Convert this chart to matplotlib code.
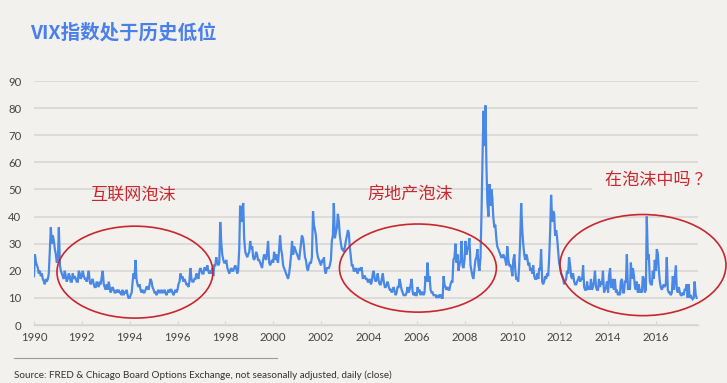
import matplotlib
matplotlib.use("Agg")
import matplotlib.pyplot as plt
import matplotlib.patches as mpatches
import numpy as np
import pandas as pd

# ---- data (semi-monthly readings of VIX daily close, Jan 1990 - Sep 2017) ----
vix_1990 = [18, 26, 23, 22, 21, 19, 20, 18, 19, 17, 16, 15, 17, 16, 17, 19, 28, 36, 30, 33, 31, 28, 26, 23]
vix_1991 = [24, 36, 22, 20, 19, 18, 17, 20, 18, 16, 17, 19, 18, 16, 16, 19, 17, 18, 17, 16, 16, 20, 19, 17]
vix_1992 = [18, 20, 18, 17, 17, 16, 18, 20, 16, 15, 16, 17, 15, 14, 14, 16, 15, 14, 16, 15, 18, 20, 15, 14]
vix_1993 = [13, 15, 13, 16, 14, 12, 13, 14, 13, 12, 12, 13, 12, 13, 12, 12, 11, 13, 11, 12, 12, 13, 11, 10]
vix_1994 = [10, 11, 12, 16, 19, 17, 24, 17, 15, 14, 15, 13, 12, 13, 12, 12, 13, 14, 14, 13, 15, 17, 16, 14]
vix_1995 = [13, 12, 12, 11, 12, 13, 12, 12, 13, 12, 12, 13, 12, 11, 12, 13, 12, 13, 13, 12, 11, 12, 13, 12]
vix_1996 = [13, 15, 16, 19, 17, 18, 16, 17, 16, 15, 15, 14, 16, 21, 17, 16, 16, 17, 17, 19, 18, 17, 20, 21]
vix_1997 = [20, 19, 19, 21, 21, 20, 22, 20, 19, 20, 19, 21, 18, 22, 22, 25, 23, 22, 23, 38, 30, 26, 24, 23]
vix_1998 = [23, 24, 21, 20, 19, 20, 21, 20, 20, 21, 22, 21, 19, 20, 28, 44, 38, 42, 45, 32, 27, 26, 25, 26]
vix_1999 = [27, 31, 28, 29, 25, 24, 25, 27, 26, 24, 24, 23, 22, 21, 24, 26, 25, 24, 27, 31, 23, 22, 23, 24]
vix_2000 = [23, 27, 24, 26, 24, 23, 28, 33, 28, 26, 22, 21, 20, 19, 18, 17, 19, 22, 26, 31, 26, 29, 28, 27]
vix_2001 = [26, 25, 24, 27, 30, 33, 32, 29, 25, 24, 21, 20, 22, 23, 23, 25, 42, 37, 35, 33, 27, 25, 24, 23]
vix_2002 = [22, 24, 23, 25, 20, 19, 21, 21, 21, 22, 24, 31, 33, 45, 32, 34, 36, 41, 38, 33, 30, 28, 28, 27]
vix_2003 = [29, 31, 33, 35, 34, 29, 25, 22, 22, 20, 20, 21, 20, 19, 21, 20, 21, 21, 17, 18, 18, 17, 17, 16]
vix_2004 = [16, 17, 15, 16, 19, 20, 17, 16, 17, 19, 16, 15, 15, 17, 19, 16, 14, 14, 15, 16, 14, 13, 13, 12]
vix_2005 = [13, 14, 12, 11, 12, 14, 14, 17, 15, 13, 12, 11, 11, 11, 12, 14, 12, 13, 15, 17, 12, 11, 12, 11]
vix_2006 = [11, 14, 12, 13, 11, 12, 12, 11, 12, 18, 16, 23, 16, 18, 13, 12, 12, 11, 11, 11, 10, 11, 10, 11]
vix_2007 = [11, 10, 10, 18, 15, 14, 13, 14, 13, 13, 15, 16, 16, 24, 25, 30, 23, 26, 20, 22, 24, 31, 22, 21]
vix_2008 = [24, 31, 26, 28, 29, 32, 22, 20, 18, 17, 21, 24, 25, 28, 22, 20, 25, 40, 60, 79, 66, 81, 58, 45]
vix_2009 = [40, 52, 44, 50, 47, 40, 36, 37, 32, 29, 28, 27, 26, 25, 25, 26, 25, 24, 22, 29, 24, 22, 22, 21]
vix_2010 = [18, 24, 26, 20, 17, 17, 16, 22, 32, 45, 35, 30, 26, 24, 26, 25, 22, 23, 20, 21, 19, 22, 18, 17]
vix_2011 = [17, 19, 17, 21, 20, 28, 16, 15, 16, 18, 17, 19, 18, 24, 35, 48, 38, 42, 41, 33, 35, 32, 27, 23]
vix_2012 = [21, 19, 18, 17, 15, 16, 17, 20, 19, 25, 22, 18, 17, 19, 16, 15, 15, 16, 17, 18, 16, 17, 17, 22]
vix_2013 = [14, 13, 13, 16, 13, 14, 13, 17, 13, 14, 16, 20, 14, 13, 13, 17, 14, 16, 15, 20, 12, 13, 14, 16]
vix_2014 = [12, 18, 21, 14, 14, 17, 13, 17, 12, 13, 11, 12, 11, 16, 17, 12, 12, 16, 16, 26, 13, 14, 13, 23]
vix_2015 = [17, 21, 18, 14, 13, 16, 12, 15, 12, 13, 12, 18, 17, 12, 13, 40, 24, 26, 16, 15, 15, 20, 17, 24]
vix_2016 = [20, 28, 26, 20, 16, 14, 13, 14, 15, 14, 15, 25, 13, 12, 12, 11, 12, 18, 13, 17, 22, 13, 12, 14]
vix_2017 = [12, 11, 11, 12, 11, 13, 13, 15, 10, 15, 10, 11, 10, 9.5, 10, 16, 11, 10]

vix = (vix_1990 + vix_1991 + vix_1992 + vix_1993 + vix_1994 + vix_1995 + vix_1996 +
       vix_1997 + vix_1998 + vix_1999 + vix_2000 + vix_2001 + vix_2002 + vix_2003 +
       vix_2004 + vix_2005 + vix_2006 + vix_2007 + vix_2008 + vix_2009 + vix_2010 +
       vix_2011 + vix_2012 + vix_2013 + vix_2014 + vix_2015 + vix_2016 + vix_2017)

x_ticks = list(range(1990, 2017, 2))
y_ticks = list(range(0, 91, 10))

title = "VIX指数处于历史低位"
labels = ["互联网泡沫", "房地产泡沫", "在泡沫中吗 ？"]
source = "Source: FRED & Chicago Board Options Exchange, not seasonally adjusted, daily (close)"

# ---- drawing ----
BG = "#f3f1ee"
BLUE = "#4a88e6"
RED = "#c9262e"
CJK = ["Noto Sans CJK SC", "DejaVu Sans"]

dates = pd.date_range("1990-01-01", periods=len(vix), freq="SMS")
xs = dates.year + (dates.dayofyear - 1) / 365.25

fig = plt.figure(figsize=(7.27, 3.83), dpi=100, facecolor=BG)
ax = fig.add_axes([34 / 727, 1 - 325 / 383, (698 - 34) / 727, (325 - 81) / 383])
ax.set_facecolor(BG)

ax.plot(xs, vix, color=BLUE, lw=1.6, zorder=3, solid_joinstyle="miter")

ax.set_xlim(1990, 2017.76)
ax.set_ylim(0, 90)
ax.set_yticks(y_ticks)
ax.set_xticks(x_ticks)
ax.grid(axis="y", color="#dcdbd9", lw=1.4)
ax.set_axisbelow(True)
for s in ["top", "right", "left"]:
    ax.spines[s].set_visible(False)
ax.spines["bottom"].set_color("#d6d5d3")
ax.spines["bottom"].set_linewidth(1.0)
ax.tick_params(axis="y", length=0, pad=9, labelsize=8.2, labelcolor="#444444")
ax.tick_params(axis="x", direction="in", length=3, color="#d6d5d3", pad=5,
               labelsize=8.2, labelcolor="#444444")
for lab in ax.get_xticklabels() + ax.get_yticklabels():
    lab.set_family("Lato")

# background box hiding grid behind the question label
box = mpatches.Rectangle((2013.34, 40.6), 5, 17.5, facecolor=BG, edgecolor="none",
                         zorder=1.6, clip_on=False)
ax.add_patch(box)

# ellipses
ell_specs = [((1994.22, 19.5), 6.52, 33.9), ((2006.05, 21.0), 6.56, 32.5), ((2015.46, 22.1), 6.94, 37.3)]
for (c, w, h) in ell_specs:
    ax.add_patch(mpatches.Ellipse(c, w, h, fill=False, edgecolor=RED, lw=1.2, zorder=4, clip_on=False))

ax.text(1994.13, 47.9, labels[0], color=RED, fontsize=12.3, family=CJK, ha="center", va="center", zorder=5)
ax.text(2005.72, 47.9, labels[1], color=RED, fontsize=12.3, family=CJK, ha="center", va="center", zorder=5)
ax.text(2016.1, 53.5, labels[2], color=RED, fontsize=12.3, family=CJK, ha="center", va="center", zorder=5)

fig.text(30 / 727, 1 - 33 / 383, title, color="#4a80ec", fontsize=14, fontweight="bold",
         family=CJK, ha="left", va="center")

fig.add_artist(plt.Line2D([14 / 727, 277 / 727], [1 - 358 / 383, 1 - 358 / 383],
                          color="#9a9a9a", lw=0.8, transform=fig.transFigure))
fig.text(14 / 727, 1 - 375 / 383, source, color="#333333", fontsize=7.1, family="Lato",
         ha="left", va="center")

fig.savefig("out.png", dpi=100, facecolor=BG)
